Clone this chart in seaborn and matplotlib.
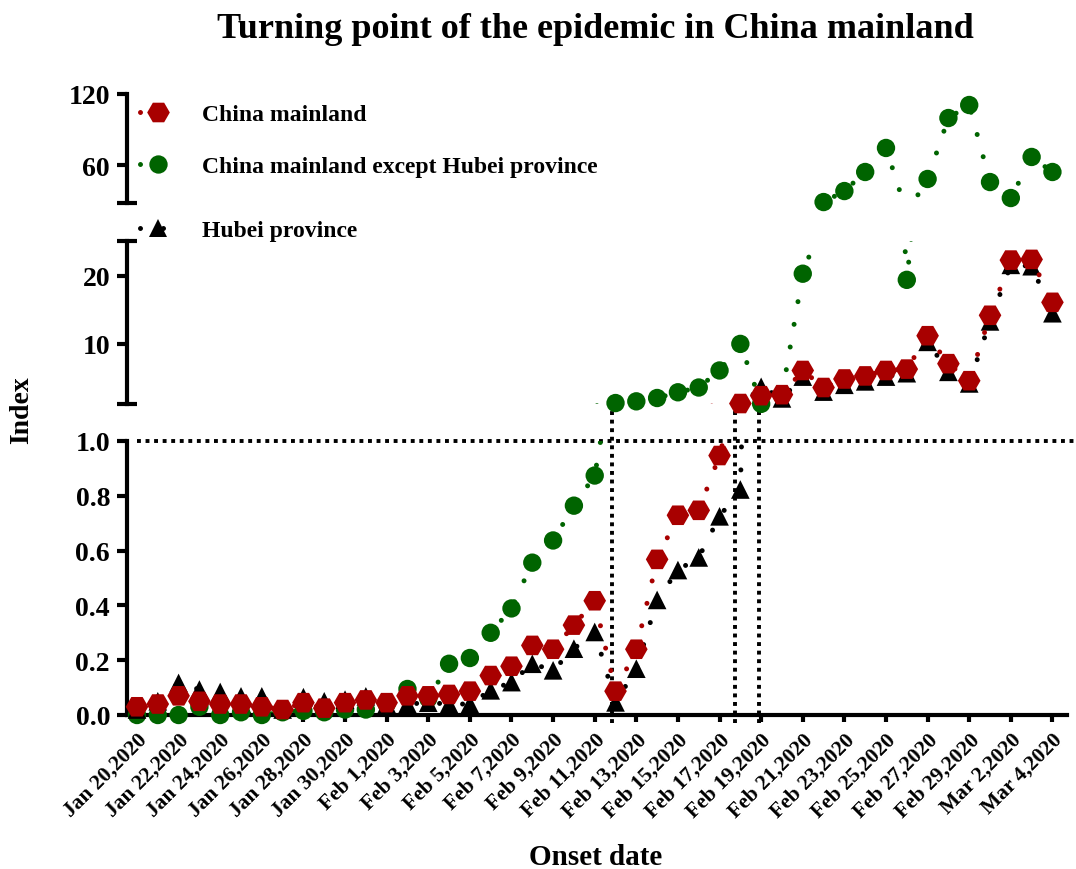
import matplotlib
matplotlib.use("Agg")
import matplotlib.pyplot as plt
import seaborn as sns
from matplotlib.lines import Line2D

# ---------------- data ----------------
days = list(range(45))  # Jan 20, 2020 ... Mar 4, 2020
tick_days = list(range(0, 45, 2))
tick_labels = ["Jan 20,2020", "Jan 22,2020", "Jan 24,2020", "Jan 26,2020", "Jan 28,2020",
               "Jan 30,2020", "Feb 1,2020", "Feb 3,2020", "Feb 5,2020", "Feb 7,2020",
               "Feb 9,2020", "Feb 11,2020", "Feb 13,2020", "Feb 15,2020", "Feb 17,2020",
               "Feb 19,2020", "Feb 21,2020", "Feb 23,2020", "Feb 25,2020", "Feb 27,2020",
               "Feb 29,2020", "Mar 2,2020", "Mar 4,2020"]

china_mainland = [0.03, 0.04, 0.07, 0.05, 0.04, 0.04, 0.03, 0.02, 0.045, 0.025,
                  0.045, 0.055, 0.045, 0.07, 0.07, 0.075, 0.087, 0.144, 0.178, 0.254,
                  0.24, 0.328, 0.417, 0.087, 0.24, 0.568, 0.729, 0.747, 0.947, 1.25,
                  2.4, 2.55, 6.1, 3.6, 4.85, 5.3, 6.1, 6.3, 11.2, 7.1,
                  4.6, 14.2, 22.3, 22.4, 16.1]
except_hubei = [0.0, 0.0, 0.0, 0.03, 0.0, 0.01, 0.0, 0.01, 0.015, 0.01,
                0.02, 0.02, 0.04, 0.095, 0.06, 0.187, 0.208, 0.30, 0.389, 0.556,
                0.637, 0.764, 0.874, 1.32, 1.57, 2.06, 2.9, 3.6, 6.1, 10.0,
                1.2, 2.5, 20.3, 28.7, 38.0, 54.1, 74.4, 19.4, 48.2, 99.7,
                110.7, 45.6, 32.1, 66.8, 54.1]
hubei = [0.02, 0.05, 0.117, 0.093, 0.084, 0.068, 0.068, 0.02, 0.065, 0.05,
         0.056, 0.068, 0.04, 0.04, 0.045, 0.04, 0.04, 0.09, 0.12, 0.187,
         0.163, 0.242, 0.303, 0.046, 0.169, 0.42, 0.529, 0.575, 0.725, 0.823,
         3.7, 2.0, 5.2, 3.0, 4.0, 4.5, 5.2, 5.7, 10.3, 5.9,
         4.2, 13.3, 21.6, 21.4, 14.5]

series_names = ["China mainland", "China mainland except Hubei province", "Hubei province"]

# turning-point reference lines (x in days, top in bottom-panel units)
turn_x = [22.85, 28.75, 29.9]
turn_top = [1.135, 1.128, 1.117]
threshold = 1.0

# ---------------- style ----------------
sns.set_theme(style="ticks")
plt.rcParams["font.family"] = ["Liberation Serif", "DejaVu Serif"]
plt.rcParams["font.weight"] = "bold"
plt.rcParams["axes.labelweight"] = "bold"
for k in ["text.color", "axes.labelcolor", "xtick.color", "ytick.color", "axes.edgecolor"]:
    plt.rcParams[k] = "black"

RED = "#A80000"
GREEN = "#006400"
BLACK = "#000000"
DOT = (0, (0.001, 4.6))
LW_DOT = 3.6

styles = {
    "China mainland": dict(color=RED, marker="H", s=265, ms=16.3, z=7),
    "China mainland except Hubei province": dict(color=GREEN, marker="o", s=175, ms=13.2, z=3),
    "Hubei province": dict(color=BLACK, marker="^", s=180, ms=13.4, z=5),
}
values = {
    "China mainland": china_mainland,
    "China mainland except Hubei province": except_hubei,
    "Hubei province": hubei,
}

W, H = 1076, 870
fig = plt.figure(figsize=(W / 100, H / 100), dpi=100)
L = 127 / W
Wd = 940 / W
ax_b = fig.add_axes([L, 154 / H, Wd, 274 / H])
ax_m = fig.add_axes([L, 465 / H, Wd, 163 / H])
ax_t = fig.add_axes([L, 666 / H, Wd, 109 / H])

panels = [
    (ax_b, (0.0, 1.0), (-1e9, 1.0)),
    (ax_m, (1.18, 25.1), (1.1, 26.0)),
    (ax_t, (27.9, 120.0), (26.0, 1e9)),
]

draw_order = ["China mainland except Hubei province", "Hubei province", "China mainland"]

for ax, ylim, keep in panels:
    for name in draw_order:
        st = styles[name]
        vals = values[name]
        sns.lineplot(x=days, y=vals, ax=ax, color=st["color"], lw=LW_DOT,
                     linestyle=DOT, dash_capstyle="round", sort=False,
                     estimator=None, legend=False, zorder=st["z"] - 1)
        xs = [d for d, v in zip(days, vals) if keep[0] <= v <= keep[1]]
        ys = [v for v in vals if keep[0] <= v <= keep[1]]
        sns.scatterplot(x=xs, y=ys, ax=ax, marker=st["marker"], s=st["s"],
                        color=st["color"], edgecolor="none", linewidth=0,
                        clip_on=False, zorder=st["z"], legend=False)
    ax.set_xlim(-0.48, 44.7)
    ax.set_ylim(*ylim)
    ax.set_xlabel("")
    ax.set_ylabel("")
    for sp in ["top", "right"]:
        ax.spines[sp].set_visible(False)
    ax.spines["left"].set_linewidth(3)
    ax.spines["bottom"].set_linewidth(3)
    ax.spines["left"].set_color("black")
    ax.spines["bottom"].set_color("black")
    ax.tick_params(axis="y", direction="out", length=7.2, width=3, pad=5,
                   labelsize=20, colors="black")
    ax.patch.set_alpha(0)

# bottom panel
ax_b.set_yticks([0.0, 0.2, 0.4, 0.6, 0.8, 1.0])
ax_b.set_yticklabels(["0.0", "0.2", "0.4", "0.6", "0.8", "1.0"])
ax_b.set_xticks(tick_days)
ax_b.set_xticklabels(tick_labels, rotation=45, ha="right", rotation_mode="anchor")
ax_b.tick_params(axis="x", direction="out", length=5, width=3, pad=5, labelsize=15.5,
                 colors="black")

# middle and top panels
for ax in (ax_m, ax_t):
    ax.spines["bottom"].set_visible(False)
    ax.set_xticks([])
ax_m.set_yticks([10, 20])
ax_m.set_yticklabels(["10", "20"])
ax_t.set_yticks([60, 120])
ax_t.set_yticklabels(["60", "120"])

# caps at segment ends
cap = 10 / 940
for ax, ypos in [(ax_m, 0), (ax_m, 1), (ax_t, 0)]:
    ax.plot([-cap, cap], [ypos, ypos], transform=ax.transAxes, color="black",
            lw=3, clip_on=False, solid_capstyle="butt")

# threshold line at 1.0 and turning-point lines
ax_b.plot([0.0, 45.14], [threshold, threshold], color="black", lw=2.8,
          linestyle=(0, (1, 1.2)), clip_on=False, zorder=1)
for x, top in zip(turn_x, turn_top):
    ax_b.plot([x, x], [-0.03, top], color="black", lw=2.8,
              linestyle=(0, (1, 1.2)), clip_on=False, zorder=1)

# legend entries
legend_y = [115, 167, 231]
for name, y in zip(series_names, legend_y):
    st = styles[name]
    h = Line2D([0], [0], color=st["color"], lw=LW_DOT, linestyle=DOT,
               dash_capstyle="round", marker=st["marker"], markersize=st["ms"],
               markeredgewidth=0)
    fig.legend(handles=[h], labels=[name], loc="center left",
               bbox_to_anchor=(140 / W, 1 - y / H), frameon=False, borderpad=0,
               borderaxespad=0, handlelength=1.53, handletextpad=1.1, numpoints=1,
               labelcolor="black",
               prop=dict(family="Liberation Serif", weight="bold", size=17))

# titles and labels
fig.text(595 / W, 1 - 29 / H, "Turning point of the epidemic in China mainland",
         ha="center", va="center", fontsize=26, fontweight="bold", color="black")
fig.text(596 / W, 1 - 858 / H, "Onset date", ha="center", va="center",
         fontsize=21, fontweight="bold", color="black")
fig.text(22 / W, 1 - 410 / H, "Index", ha="center", va="center", rotation=90,
         fontsize=20, fontweight="bold", color="black")

fig.savefig("out.png", dpi=100)
